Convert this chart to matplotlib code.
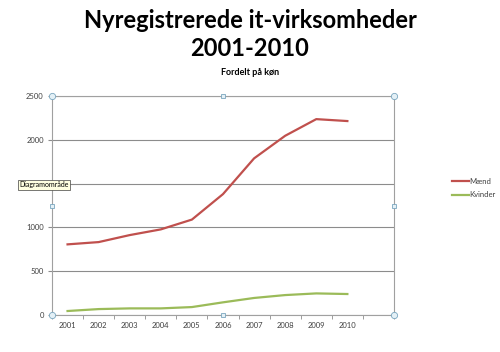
import matplotlib.pyplot as plt
from matplotlib.lines import Line2D

# Nyregistrerede it-virksomheder fordelt paa koen, aflaest fra figuren
years = ["2001", "2002", "2003", "2004", "2005", "2006", "2007", "2008", "2009", "2010"]
maend = [807, 833, 913, 978, 1090, 1381, 1789, 2047, 2237, 2215]
kvinder = [46, 68, 76, 76, 91, 145, 195, 228, 247, 240]
yticks = [0, 500, 1000, 1500, 2000, 2500]

RED = "#C0504D"
GREEN = "#9BBB59"
GRID = "#8c8c8c"

plt.rcParams["font.family"] = ["Lato", "DejaVu Sans"]

fig = plt.figure(figsize=(5, 3.52), dpi=100)
ax = fig.add_axes([0.104, 0.105, 0.684, 0.622])

x = list(range(len(years)))
ax.plot(x, maend, color=RED, lw=1.6, label="Mænd")
ax.plot(x, kvinder, color=GREEN, lw=1.6, label="Kvinder")

ax.set_xlim(-0.5, len(years) + 0.5)
ax.set_ylim(0, 2500)
ax.set_yticks(yticks)
# 1500 er skjult bag tooltip'en i originalen
ax.set_yticklabels(["" if v == 1500 else str(v) for v in yticks])
ax.set_xticks(x)
ax.set_xticklabels(years)
ax.set_xticks([i + 0.5 for i in range(-1, len(years) + 1)], minor=True)
ax.tick_params(axis="x", which="major", length=0, labelsize=5.5, colors="#404040", pad=5)
ax.tick_params(axis="x", which="minor", length=3, color=GRID)
ax.tick_params(axis="y", length=3, color=GRID, labelsize=5.5, labelcolor="#404040", pad=3)
ax.yaxis.grid(True, color=GRID, lw=0.8)
ax.set_axisbelow(True)
for s in ax.spines.values():
    s.set_color("#a0a0a0")
    s.set_linewidth(0.8)

ax.legend(loc="center left", bbox_to_anchor=(1.15, 0.58), frameon=False,
          fontsize=5.5, handlelength=2.2, handletextpad=0.1, labelspacing=0.9,
          labelcolor="#404040")

fig.text(0.5, 0.943, "Nyregistrerede it-virksomheder", ha="center", va="center",
         fontsize=17, fontweight="bold")
fig.text(0.5, 0.862, "2001-2010", ha="center", va="center",
         fontsize=17, fontweight="bold")
fig.text(0.5, 0.795, "Fordelt på køn", ha="center", va="center",
         fontsize=6.5, fontweight="bold")

# markeringshaandtag og tooltip fra Excel
handles = [(0.104, 0.727, "o"), (0.446, 0.727, "s"), (0.788, 0.727, "o"),
           (0.104, 0.416, "s"), (0.788, 0.416, "s"),
           (0.104, 0.105, "o"), (0.446, 0.105, "s"), (0.788, 0.105, "o")]
for hx, hy, m in handles:
    fig.add_artist(Line2D([hx], [hy], marker=m, markersize=4.5 if m == "o" else 3.5,
                          markerfacecolor="#e4f0f6", markeredgecolor="#7aa6bf",
                          markeredgewidth=0.6, transform=fig.transFigure))
fig.text(0.038, 0.475, "Diagramområde", fontsize=5, va="center", ha="left",
         bbox=dict(boxstyle="square,pad=0.2", fc="#ffffe1", ec="#404040", lw=0.5))

fig.savefig("out.png", dpi=100)
